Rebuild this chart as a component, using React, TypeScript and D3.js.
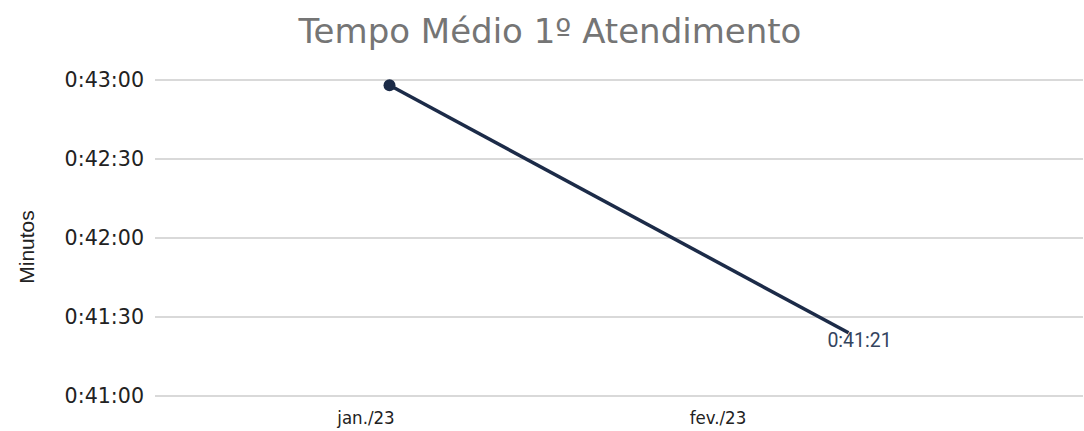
import { useMemo } from "react";
import * as d3 from "d3";

const WIDTH = 1084;
const HEIGHT = 431;

// months on the x axis
const months = ["jan./23", "fev./23"];
// average first-response time, in seconds
const avgSeconds = [2578, 2484];
// data labels shown next to the points
const pointLabels = ["", "0:41:21"];
// y ticks, in seconds
const yTicks = [2460, 2490, 2520, 2550, 2580];

const fmt = (s: number) => {
  const h = Math.floor(s / 3600);
  const m = Math.floor((s % 3600) / 60);
  const sec = s % 60;
  return `${h}:${String(m).padStart(2, "0")}:${String(sec).padStart(2, "0")}`;
};

const App = () => {
  const y = useMemo(() => d3.scaleLinear().domain([2460, 2580]).range([396, 80]), []);
  // points sit in the middle of each band of the plot area
  const x = useMemo(() => d3.scaleBand().domain(months).range([160, 1078]), []);
  // the category labels are laid out on a narrower band than the points
  const xLabel = useMemo(() => d3.scaleBand().domain(months).range([190, 894]), []);

  const line = d3
    .line<number>()
    .x((_, i) => x(months[i])! + x.bandwidth() / 2)
    .y((d) => y(d));

  return (
    <svg width={WIDTH} height={HEIGHT} style={{ display: "block" }}>
      <style>{`body{margin:0}`}</style>
      <rect width={WIDTH} height={HEIGHT} fill="#fff" />
      <text
        x={550}
        y={43}
        textAnchor="middle"
        fontFamily="DejaVu Sans"
        fontSize={34}
        fill="#757575"
      >
        Tempo Médio 1º Atendimento
      </text>

      {yTicks.map((t) => (
        <g key={t}>
          <line x1={155} x2={1083} y1={y(t)} y2={y(t)} stroke="#cccccc" strokeWidth={1.5} />
          <text
            x={144}
            y={y(t)}
            dy="0.36em"
            textAnchor="end"
            fontFamily="DejaVu Sans"
            fontSize={20.6}
            fill="#222"
          >
            {fmt(t)}
          </text>
        </g>
      ))}

      <text
        transform={`translate(34, 247) rotate(-90)`}
        textAnchor="middle"
        fontFamily="Liberation Sans"
        fontSize={21}
        fill="#222"
      >
        Minutos
      </text>

      {months.map((m) => (
        <text
          key={m}
          x={xLabel(m)! + xLabel.bandwidth() / 2}
          y={424}
          textAnchor="middle"
          fontFamily="DejaVu Sans Condensed, DejaVu Sans"
          fontStretch="condensed"
          fontSize={18.5}
          fill="#222"
        >
          {m}
        </text>
      ))}

      <path d={line(avgSeconds) ?? ""} fill="none" stroke="#1c2b48" strokeWidth={3.5} />
      <circle
        cx={x(months[0])! + x.bandwidth() / 2}
        cy={y(avgSeconds[0])}
        r={6}
        fill="#1c2b48"
      />
      {avgSeconds.map((v, i) =>
        pointLabels[i] ? (
          <text
            key={i}
            x={x(months[i])! + x.bandwidth() / 2 + 11}
            y={y(v) + 14}
            textAnchor="middle"
            fontFamily="Roboto"
            fontSize={19.5}
            fill="#34445e"
          >
            {pointLabels[i]}
          </text>
        ) : null
      )}
    </svg>
  );
};

export default App;
